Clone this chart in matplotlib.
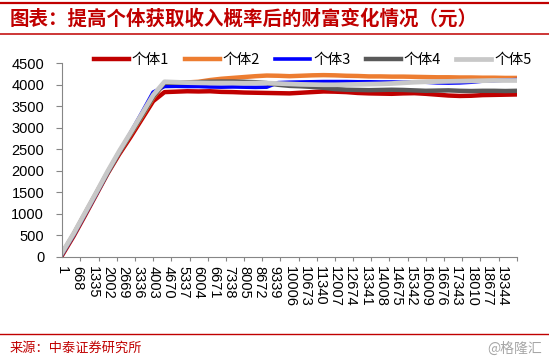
import matplotlib
matplotlib.use("Agg")
import matplotlib.pyplot as plt
from matplotlib.lines import Line2D
import numpy as np

plt.rcParams['font.family'] = ['Noto Sans CJK SC', 'DejaVu Sans']

title = "图表：提高个体获取收入概率后的财富变化情况（元）"
source = "来源：中泰证券研究所"
watermark = "@格隆汇"

names = ["个体1", "个体2", "个体3", "个体4", "个体5"]
colors = ["#C00000", "#ED7D31", "#0000FF", "#595959", "#C8C8C8"]

steps = [1, 500, 1000, 1500, 2000, 2500, 3000, 3500, 4000, 4500,
         5000, 5500, 6000, 6500, 7000, 7500, 8000, 8500, 9000, 9500,
         10000, 10500, 11000, 11500, 12000, 12500, 13000, 13500, 14000, 14500,
         15000, 15500, 16000, 16500, 17000, 17500, 18000, 18500, 19000, 19500,
         20000]

wealth1 = [40, 480, 960, 1450, 1940, 2380, 2780, 3200, 3620, 3830,
           3840, 3850, 3845, 3850, 3835, 3830, 3820, 3815, 3810, 3805,
           3800, 3815, 3830, 3845, 3840, 3830, 3810, 3800, 3795, 3790,
           3800, 3805, 3790, 3770, 3750, 3740, 3745, 3760, 3765, 3770,
           3775]
wealth2 = [80, 520, 1000, 1480, 1960, 2420, 2840, 3260, 3700, 4040,
           4050, 4055, 4070, 4110, 4140, 4160, 4180, 4200, 4215, 4210,
           4200, 4210, 4220, 4225, 4220, 4210, 4205, 4195, 4195, 4190,
           4190, 4185, 4180, 4175, 4175, 4170, 4170, 4165, 4165, 4160,
           4160]
wealth3 = [60, 500, 980, 1460, 1950, 2420, 2880, 3350, 3830, 3960,
           3965, 3960, 3960, 3950, 3945, 3950, 3945, 3940, 3945, 4050,
           4060, 4065, 4070, 4075, 4075, 4075, 4070, 4070, 4065, 4065,
           4060, 4065, 4060, 4045, 4040, 4045, 4060, 4085, 4095, 4110,
           4120]
wealth4 = [80, 520, 1000, 1480, 1960, 2420, 2850, 3280, 3720, 4050,
           4050, 4050, 4060, 4070, 4075, 4075, 4070, 4060, 4040, 4000,
           3975, 3965, 3950, 3930, 3900, 3885, 3880, 3875, 3880, 3885,
           3880, 3870, 3860, 3865, 3870, 3860, 3855, 3860, 3860, 3855,
           3860]
wealth5 = [100, 540, 1020, 1500, 1990, 2450, 2880, 3320, 3760, 4070,
           4060, 4050, 4045, 4040, 4040, 4040, 4035, 4040, 4040, 4030,
           4020, 4010, 4005, 4000, 4000, 4005, 4010, 4015, 4020, 4030,
           4045, 4060, 4070, 4075, 4080, 4085, 4090, 4095, 4100, 4100,
           4100]

x_labels = [1, 668, 1335, 2002, 2669, 3336, 4003, 4670, 5337, 6004, 6671, 7338,
            8005, 8672, 9339, 10006, 10673, 11340, 12007, 12674, 13341, 14008,
            14675, 15342, 16009, 16676, 17343, 18010, 18677, 19344]
y_ticks = [0, 500, 1000, 1500, 2000, 2500, 3000, 3500, 4000, 4500]

W, H = 549, 356
fig = plt.figure(figsize=(W / 100, H / 100), dpi=100)
ax = fig.add_axes([62.3 / W, 1 - 256.7 / H, (516.7 - 62.3) / W, (256.7 - 63.3) / H])

series = [wealth1, wealth2, wealth3, wealth4, wealth5]
widths = [3.2, 3.2, 2.6, 3.2, 3.4]
handles = []
for name, col, vals, lw in zip(names, colors, series, widths):
    h, = ax.plot(steps, vals, color=col, lw=lw, label=name, solid_joinstyle='round')
    handles.append(h)

ax.set_xlim(1, 20000)
ax.set_ylim(0, 4500)
ax.set_yticks(y_ticks)
ax.set_yticklabels([str(v) for v in y_ticks], fontfamily='Liberation Sans', fontsize=10.5)
ax.set_xticks(x_labels)
ax.set_xticklabels([str(v) for v in x_labels], rotation=-90, fontfamily='Liberation Sans',
                   fontsize=10.5, ha='center', va='top')
ax.set_xticks(list(range(1, 20002, 800)), minor=True)
ax.tick_params(axis='x', which='major', length=0, pad=7)
ax.tick_params(axis='x', which='minor', length=3, width=0.8, color='#868686', direction='out')
ax.tick_params(axis='y', length=4, width=0.8, color='#868686', direction='out', pad=9)

for s in ['top', 'right']:
    ax.spines[s].set_visible(False)
for s in ['left', 'bottom']:
    ax.spines[s].set_color('#868686')
    ax.spines[s].set_linewidth(0.8)

fig.legend(handles=handles, labels=names, loc='center left',
           bbox_to_anchor=(94 / W, 1 - 60 / H), ncol=5, frameon=False,
           fontsize=10.5, handlelength=2.4, handletextpad=0.2, columnspacing=1.05,
           borderpad=0, borderaxespad=0)

red = "#C00000"
fig.add_artist(Line2D([0, 1], [1 - 2.8 / H, 1 - 2.8 / H], transform=fig.transFigure, color=red, lw=1.6))
fig.add_artist(Line2D([0, 1], [1 - 34 / H, 1 - 34 / H], transform=fig.transFigure, color=red, lw=1.1))
fig.add_artist(Line2D([0, 1], [1 - 334 / H, 1 - 334 / H], transform=fig.transFigure, color=red, lw=1.0))

fig.text(10 / W, 1 - 19 / H, title, color=red, fontsize=14, fontweight='bold',
         ha='left', va='center', style='italic')
fig.text(10 / W, 1 - 348.5 / H, source, color=red, fontsize=9.5, ha='left', va='center')
fig.text(542 / W, 1 - 348.5 / H, watermark, color='#A6A6A6', fontsize=10, ha='right', va='center')

fig.savefig("out.png", dpi=100)
